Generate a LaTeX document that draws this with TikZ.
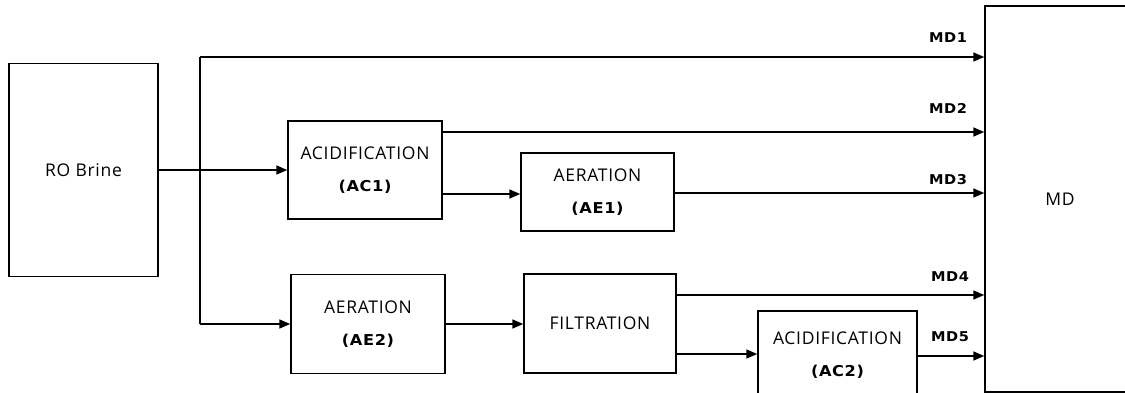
\documentclass[tikz,border=0pt]{standalone}
\usepackage{fontspec}
\setmainfont{Open Sans}[LetterSpace=4]
\newfontfamily\labfont{DejaVu Sans}[FakeStretch=1.08,LetterSpace=4]
\usetikzlibrary{arrows.meta}
\begin{document}
\begin{tikzpicture}[x=1pt,y=-1pt,
  box/.style={draw,line width=1.4pt,inner sep=0pt,align=center,
    font=\fontsize{17.5}{32}\selectfont},
  ln/.style={line width=1.4pt},
  arr/.style={line width=1.4pt,-{Triangle[length=11pt,width=9pt]}},
  lab/.style={font=\labfont\bfseries\fontsize{13.5}{16}\selectfont},
]
\newcommand\subl[1]{{\labfont\bfseries\fontsize{15}{32}\selectfont #1}}
\clip (0,0) rectangle (1125,393);
\fill[white] (0,0) rectangle (1125,393);

% boxes
\node[box,minimum width=149pt,minimum height=213pt] (ro) at (83.5,170) {RO Brine};
\node[box,minimum width=154pt,minimum height=98pt] (ac1) at (365,170) {ACIDIFICATION\\\subl{(AC1)}};
\node[box,minimum width=153pt,minimum height=78pt] (ae1) at (597.5,192) {AERATION\\\subl{(AE1)}};
\node[box,minimum width=154pt,minimum height=99pt] (ae2) at (368,324) {AERATION\\\subl{(AE2)}};
\node[box,minimum width=152pt,minimum height=99pt] (filt) at (600,323.5) {FILTRATION};
\node[box,minimum width=159pt,minimum height=89pt] (ac2) at (837.5,355.5) {ACIDIFICATION\\\subl{(AC2)}};
\node[box,minimum width=150pt,minimum height=386pt] (md) at (1060,199) {MD};

% helper coordinates
\coordinate (tt) at (200,57);
\coordinate (tb) at (200,324);
\coordinate (y2) at (0,132);
\coordinate (y3a) at (0,194);
\coordinate (y3) at (0,193);
\coordinate (y4) at (0,295);
\coordinate (y5a) at (0,354);
\coordinate (y5) at (0,356);

% connectors
\draw[arr] (ro.east) -- (ac1.west);
\draw[ln] (tt) -- (tb);
\draw[arr] (tt) -- (md.west |- tt);
\draw[arr] (tb) -- (ae2.west |- tb);
\draw[arr] (ac1.east |- y2) -- (md.west |- y2);
\draw[arr] (ac1.east |- y3a) -- (ae1.west |- y3a);
\draw[arr] (ae1.east |- y3) -- (md.west |- y3);
\draw[arr] (ae2.east |- tb) -- (filt.west |- tb);
\draw[arr] (filt.east |- y4) -- (md.west |- y4);
\draw[arr] (filt.east |- y5a) -- (ac2.west |- y5a);
\draw[arr] (ac2.east |- y5) -- (md.west |- y5);

% labels
\node[lab] (l1) at (948,38) {MD1};
\node[lab] (l2) at (948,108) {MD2};
\node[lab] (l3) at (948,180) {MD3};
\node[lab] (l4) at (950,277) {MD4};
\node[lab] (l5) at (950,337) {MD5};
\end{tikzpicture}
\end{document}
